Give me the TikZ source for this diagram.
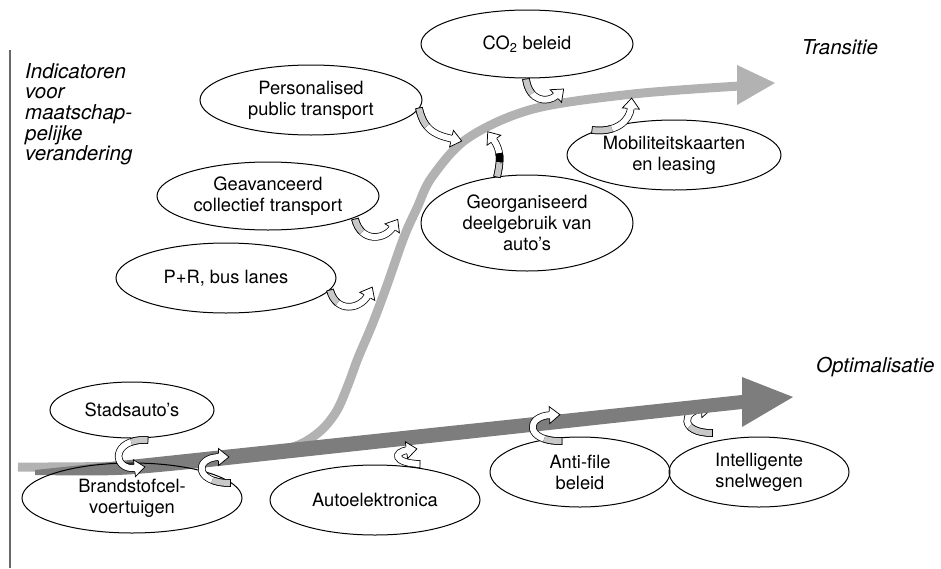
\documentclass[tikz,border=0pt]{standalone}
\usepackage{fontspec}
\setmainfont{TeX Gyre Heros}
\usetikzlibrary{shapes.geometric, decorations.markings}
\definecolor{darkband}{RGB}{125,125,125}
\definecolor{lightband}{RGB}{178,178,178}
\definecolor{ribgray}{RGB}{200,200,200}
\definecolor{axisgray}{RGB}{105,105,105}
\newcommand\curly[2]{%
  \draw[line width=0.75pt, double=white, double distance=6pt] #2;
  \draw[line width=0.75pt, double=ribgray, double distance=6pt, dash pattern=on #1pt off 600pt] #2;
  \path[decorate, decoration={markings,
     mark=at position 0 with {\draw[line width=0.75pt] (0,-3.75) -- (0,3.75);},
     mark=at position 0.999 with {\draw[line width=0.75pt, fill=white] (-1.5,-3.75) -- (-1.5,-8.5) -- (9,0) -- (-1.5,8.5) -- (-1.5,3.75);}}] #2;
}
\begin{document}
\begin{tikzpicture}[x=1pt, y=-1pt,
  ell/.style={ellipse, draw, line width=1pt, inner sep=0pt, align=center, font=\fontsize{18.3}{21}\selectfont},
  lab/.style={font=\fontsize{20.5}{20.7}\selectfont\itshape, inner sep=0pt, align=left}]
\useasboundingbox (0,0) rectangle (941,568);

% axis
\coordinate (axtop) at (10,50);
\coordinate (axbot) at (10,568);
\draw[axisgray, line width=2pt] (axtop) -- (axbot);

% labels
\node[lab, anchor=north west] (ind) at (25,63) {Indicatoren\\voor\\maatschap-\\pelijke\\verandering};
\node[lab] (tra) at (840,47) {Transitie};
\node[lab, anchor=west] (opt) at (816,367) {Optimalisatie};

% light S-curve (Transitie)
\draw[lightband, line width=9pt] plot[smooth, tension=0.55] coordinates {(18,467) (120,466) (230,459) (290,448) (318,433) (336,412) (348,385) (358,358) (372,325) (386,288) (404,237) (417,208) (432,177) (468,138) (533,109) (633,94) (740,86)};
\fill[lightband] (737,65) -- (775,83) -- (737,105) -- cycle;

% curly under dark arrow
\curly{24}{(712,433) .. controls (679,433) and (682,410) .. (703,409)}

% dark arrow (Optimalisatie)
\fill[darkband] (35,470) -- (742,395) -- (742,377) -- (793,397) -- (742,427) -- (742,409) -- (200,468) .. controls (120,476) .. (35,475) -- cycle;

% ellipses
\node[ell, minimum width=212, minimum height=68] (co2) at (527,44) {CO\textsubscript{2} beleid};
\node[ell, minimum width=222, minimum height=70] (ppt) at (311,100) {Personalised\\public transport};
\node[ell, minimum width=222, minimum height=68] (gct) at (268,196) {Geavanceerd\\collectief transport};
\node[ell, minimum width=220, minimum height=70] (pr) at (226,278) {P+R, bus lanes};
\node[ell, minimum width=212, minimum height=96] (gda) at (527,223) {Georganiseerd\\deelgebruik van\\auto’s};
\node[ell, minimum width=214, minimum height=70] (mob) at (674,155) {Mobiliteitskaarten\\en leasing};
\node[ell, minimum width=164, minimum height=56] (sta) at (132,410) {Stadsauto’s};
\node[ell, minimum width=220, minimum height=70] (bcv) at (132,498) {Brandstofcel-\\voertuigen};
\node[ell, minimum width=210, minimum height=70] (aut) at (375,500) {Autoelektronica};
\node[ell, minimum width=180, minimum height=70] (afb) at (580,472) {Anti-file\\beleid};
\node[ell, minimum width=180, minimum height=70] (isw) at (759,472) {Intelligente\\snelwegen};

% curly arrows
\curly{20}{(419,108) .. controls (424,133) and (440,136) .. (453,139)}
\curly{15}{(355,219) .. controls (361,243) and (385,240) .. (393,227)}
\curly{15}{(330,290) .. controls (336,313) and (360,310) .. (368,295)}
\curly{16}{(526,79) .. controls (529,101) and (547,104) .. (557,95)}
\curly{14}{(497,177) .. controls (501,160) and (501,150) .. (493,139)}
\draw[line width=0.75pt, double=black, double distance=6pt, dash pattern=on 0pt off 15pt on 9pt off 600pt] (497,177) .. controls (501,160) and (501,150) .. (493,139);
\curly{20}{(592,130) .. controls (616,133) and (630,121) .. (631,107)}
\curly{17}{(148,440) .. controls (110,438) and (112,471) .. (136,468)}
\curly{18}{(230,483) .. controls (194,483) and (194,457) .. (220,457)}
\curly{0}{(420,464) .. controls (393,463) and (393,452) .. (408,450)}
\curly{18}{(562,441) .. controls (525,442) and (525,416) .. (551,415)}
\end{tikzpicture}
\end{document}
